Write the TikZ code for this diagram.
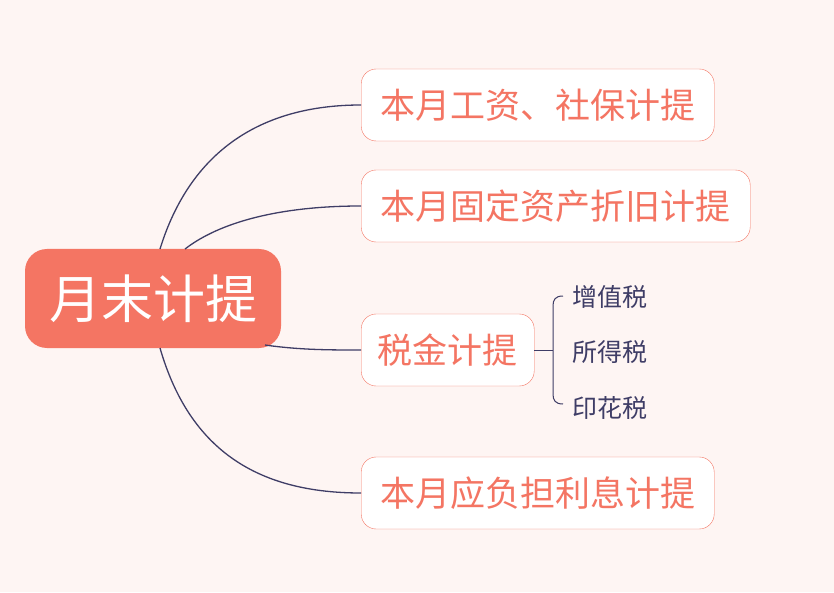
\documentclass[tikz,border=0pt]{standalone}
\usepackage{fontspec}
\newfontfamily\cjk{Noto Sans CJK SC}
\definecolor{bg}{HTML}{FEF5F3}
\definecolor{sal}{HTML}{F47563}
\definecolor{navy}{HTML}{3F3D66}
\begin{document}
\begin{tikzpicture}[x=1pt,y=1pt,
  child/.style={draw=sal,fill=white,rounded corners=15pt,text=sal,font=\cjk\fontsize{35}{36}\selectfont,minimum height=72pt,anchor=west,inner xsep=10pt},
  leaf/.style={text=navy,font=\cjk\fontsize{25}{26}\selectfont,anchor=west,inner sep=0pt},
  conn/.style={draw=navy,line width=1.3pt}]
\fill[bg] (0,0) rectangle (834,592);
\useasboundingbox (0,0) rectangle (834,592);
\node[fill=sal,rounded corners=22pt,text=white,font=\cjk\fontsize{52}{54}\selectfont,minimum width=256pt,minimum height=99pt] (root) at (153,293.5) {月末计提};
\node[child,minimum width=353pt] (a) at (361,487) {本月工资、社保计提};
\node[child,minimum width=389pt] (b) at (361,386) {本月固定资产折旧计提};
\node[child,minimum width=173pt] (c) at (361,242) {税金计提};
\node[child,minimum width=353pt] (d) at (361,99) {本月应负担利息计提};
\coordinate (r1) at (160,343);
\coordinate (r2) at (185,343);
\coordinate (r3) at (265,247);
\coordinate (r4) at (160,244);
\draw[conn] (r1) .. controls (190,440) and (260,487) .. (a.west);
\draw[conn] (r2) .. controls (220,370) and (280,386) .. (b.west);
\draw[conn] (r3) .. controls (300,242) and (330,242) .. (c.west);
\draw[conn] (r4) .. controls (190,140) and (260,99) .. (d.west);
\node[leaf] (l1) at (572,295) {增值税};
\node[leaf] (l2) at (572,240) {所得税};
\node[leaf] (l3) at (572,184) {印花税};
\coordinate (bk) at (553,242);
\draw[navy,line width=1pt] (c.east) -- (bk);
\draw[navy,line width=1pt] (563,296) .. controls (555,296) and (553,292) .. (553,286) -- (553,198) .. controls (553,192) and (555,188) .. (563,188);
\end{tikzpicture}
\end{document}
